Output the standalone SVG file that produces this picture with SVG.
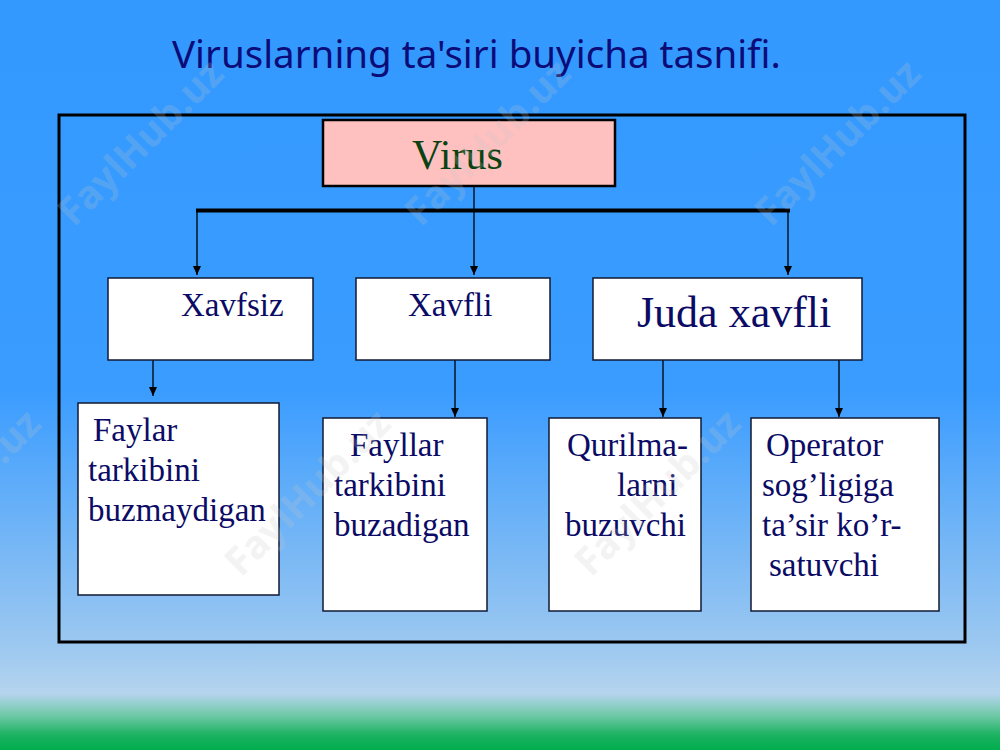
<svg xmlns="http://www.w3.org/2000/svg" width="1000" height="750" viewBox="0 0 1000 750">
  <defs>
    <linearGradient id="bg" x1="0" y1="0" x2="0" y2="1">
      <stop offset="0" stop-color="#3399ff"/>
      <stop offset="0.52" stop-color="#3a9cff"/>
      <stop offset="0.86" stop-color="#9cc8f0"/>
      <stop offset="0.925" stop-color="#b5d4ee"/>
      <stop offset="0.955" stop-color="#6cc8a4"/>
      <stop offset="0.98" stop-color="#1cb262"/>
      <stop offset="1" stop-color="#00ad4c"/>
    </linearGradient>
    <marker id="arr" markerWidth="9" markerHeight="8" refX="9" refY="4" orient="auto" markerUnits="userSpaceOnUse" viewBox="0 0 9 8">
      <path d="M0,0 L9,4 L0,8 Z" fill="#000"/>
    </marker>
    <style>
      .box { fill: #ffffff; stroke: #111a33; stroke-width: 1.5; }
      .t { font-family: "Liberation Serif", "Times New Roman", serif; font-size: 33px; fill: #0b0b66; }
      .big { font-size: 44px; }
      .c { stroke: #000; stroke-width: 1.3; fill: none; }
      .wm { font-family: "Open Sans", "DejaVu Sans", sans-serif; font-weight: bold; font-size: 39px; fill: #c8c8c8; opacity: 0.2; }
    </style>
  </defs>

  <rect x="0" y="0" width="1000" height="750" fill="url(#bg)"/>

  <text x="172" y="68" font-family="'Noto Sans', 'Open Sans', sans-serif" font-size="38.5" fill="#0c0c78">Viruslarning ta'siri buyicha tasnifi.</text>

  <rect id="frame" x="59" y="115" width="906" height="527" fill="none" stroke="#000" stroke-width="3"/>

  <g id="connectors">
    <line x1="196" y1="210.5" x2="790" y2="210.5" stroke="#000" stroke-width="4"/>
    <line class="c" x1="474" y1="186" x2="474" y2="275" marker-end="url(#arr)"/>
    <line class="c" x1="197" y1="211" x2="197" y2="275" marker-end="url(#arr)"/>
    <line class="c" x1="788" y1="211" x2="788" y2="275" marker-end="url(#arr)"/>
    <line class="c" x1="153" y1="360" x2="153" y2="396" marker-end="url(#arr)"/>
    <line class="c" x1="455" y1="360" x2="455" y2="417" marker-end="url(#arr)"/>
    <line class="c" x1="663" y1="360" x2="663" y2="417" marker-end="url(#arr)"/>
    <line class="c" x1="839" y1="360" x2="839" y2="417" marker-end="url(#arr)"/>
  </g>

  <g id="virus">
    <rect x="323" y="120" width="292" height="66" fill="#ffc0c0" stroke="#000" stroke-width="2.5"/>
    <text x="412" y="169" font-family="'Liberation Serif', 'Times New Roman', serif" font-size="42" fill="#0a4212">Virus</text>
  </g>

  <g id="xavfsiz">
    <rect class="box" x="108" y="278" width="205" height="82"/>
    <text class="t" x="181" y="316">Xavfsiz</text>
  </g>

  <g id="xavfli">
    <rect class="box" x="356" y="278" width="194" height="82"/>
    <text class="t" x="408" y="316">Xavfli</text>
  </g>

  <g id="juda-xavfli">
    <rect class="box" x="593" y="278" width="269" height="82"/>
    <text class="t big" x="637" y="327">Juda xavfli</text>
  </g>

  <g id="faylar-buzmaydigan">
    <rect class="box" x="78" y="403" width="201" height="192"/>
    <text class="t" x="93" y="441">Faylar</text>
    <text class="t" x="88" y="481">tarkibini</text>
    <text class="t" x="88" y="521">buzmaydigan</text>
  </g>

  <g id="fayllar-buzadigan">
    <rect class="box" x="323" y="418" width="164" height="193"/>
    <text class="t" x="350" y="456">Fayllar</text>
    <text class="t" x="334" y="496">tarkibini</text>
    <text class="t" x="334" y="536">buzadigan</text>
  </g>

  <g id="qurilmalarni">
    <rect class="box" x="549" y="418" width="152" height="193"/>
    <text class="t" x="567" y="456">Qurilma-</text>
    <text class="t" x="617" y="496">larni</text>
    <text class="t" x="565" y="536">buzuvchi</text>
  </g>

  <g id="operator">
    <rect class="box" x="751" y="418" width="188" height="193"/>
    <text class="t" x="766" y="456">Operator</text>
    <text class="t" x="762" y="496">sog’ligiga</text>
    <text class="t" x="762" y="536">ta’sir ko’r-</text>
    <text class="t" x="769" y="576">satuvchi</text>
  </g>

  <g id="watermarks">
    <text class="wm" text-anchor="middle" transform="translate(150,152) rotate(-45)">FaylHub.uz</text>
    <text class="wm" text-anchor="middle" transform="translate(497,152) rotate(-45)">FaylHub.uz</text>
    <text class="wm" text-anchor="middle" transform="translate(847,152) rotate(-45)">FaylHub.uz</text>
    <text class="wm" text-anchor="middle" transform="translate(-33,502) rotate(-45)">FaylHub.uz</text>
    <text class="wm" text-anchor="middle" transform="translate(317,502) rotate(-45)">FaylHub.uz</text>
    <text class="wm" text-anchor="middle" transform="translate(667,502) rotate(-45)">FaylHub.uz</text>
  </g>
</svg>
